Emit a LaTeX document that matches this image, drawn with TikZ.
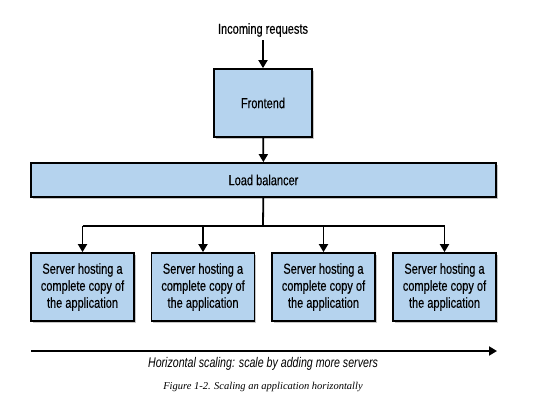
\documentclass[tikz,border=0pt]{standalone}
\usepackage{fontspec}
\setmainfont[FakeStretch=0.76, FakeBold=0.3]{Liberation Sans}
\newfontfamily\escalafont[FakeStretch=0.76]{Liberation Sans}
\newfontfamily\legendafont{Liberation Serif}
\usetikzlibrary{shadows,arrows.meta}
\definecolor{azulcaixa}{HTML}{B5D3EE}
\tikzset{
  caixa/.style={draw, line width=1.8pt, fill=azulcaixa, align=center, inner sep=0pt,
    drop shadow={shadow xshift=1.5pt, shadow yshift=-2pt, opacity=0.45}},
  servidor/.style={caixa, minimum width=103pt, minimum height=68pt},
  seta/.style={-{Triangle[length=8pt,width=9pt]}, line width=1.8pt}
}
\begin{document}
\begin{tikzpicture}[x=1pt, y=-1pt, font=\fontsize{14.5}{17}\selectfont]
    \useasboundingbox (0,0) rectangle (546,407);

    % Texto do servidor
    \def\txtServ{Server hosting a\\complete copy of\\the application}

    % Entrada e frontend
    \node (entrada) at (263,30) {Incoming requests};
    \node[caixa, minimum width=98pt, minimum height=68pt] (frontend) at (263,103) {Frontend};

    % Balanceador de carga
    \node[caixa, minimum width=465pt, minimum height=34pt] (balancer) at (263.5,180) {Load balancer};

    % Servidores
    \node[servidor] (srvA) at (82.5,287) {\txtServ};
    \node[servidor] (srvB) at (203,287) {\txtServ};
    \node[servidor] (srvC) at (323.5,287) {\txtServ};
    \node[servidor] (srvD) at (444.5,287) {\txtServ};

    % Setas de entrada
    \draw[seta] (entrada) -- (frontend);
    \draw[seta] (frontend) -- (balancer);

    % Distribuicao para os servidores
    \coordinate (junta) at (263,226);
    \draw[line width=1.8pt] (balancer) -- (junta);
    \draw[line width=1.8pt] (srvA |- junta) -- (srvD |- junta);
    \draw[seta] (srvA |- junta) -- (srvA);
    \draw[seta] (srvB |- junta) -- (srvB);
    \draw[seta] (srvC |- junta) -- (srvC);
    \draw[seta] (srvD |- junta) -- (srvD);

    % Escala horizontal
    \coordinate (escalaIni) at (31,351);
    \coordinate (escalaFim) at (497,351);
    \draw[seta] (escalaIni) -- (escalaFim);
    \node[font=\escalafont\fontsize{14}{16}\selectfont\itshape] (escala) at (263,364) {Horizontal scaling: scale by adding more servers};

    % Legenda
    \node[font=\legendafont\fontsize{10.5}{12}\selectfont\itshape] (legenda) at (263,387) {Figure 1-2. Scaling an application horizontally};
\end{tikzpicture}
\end{document}
